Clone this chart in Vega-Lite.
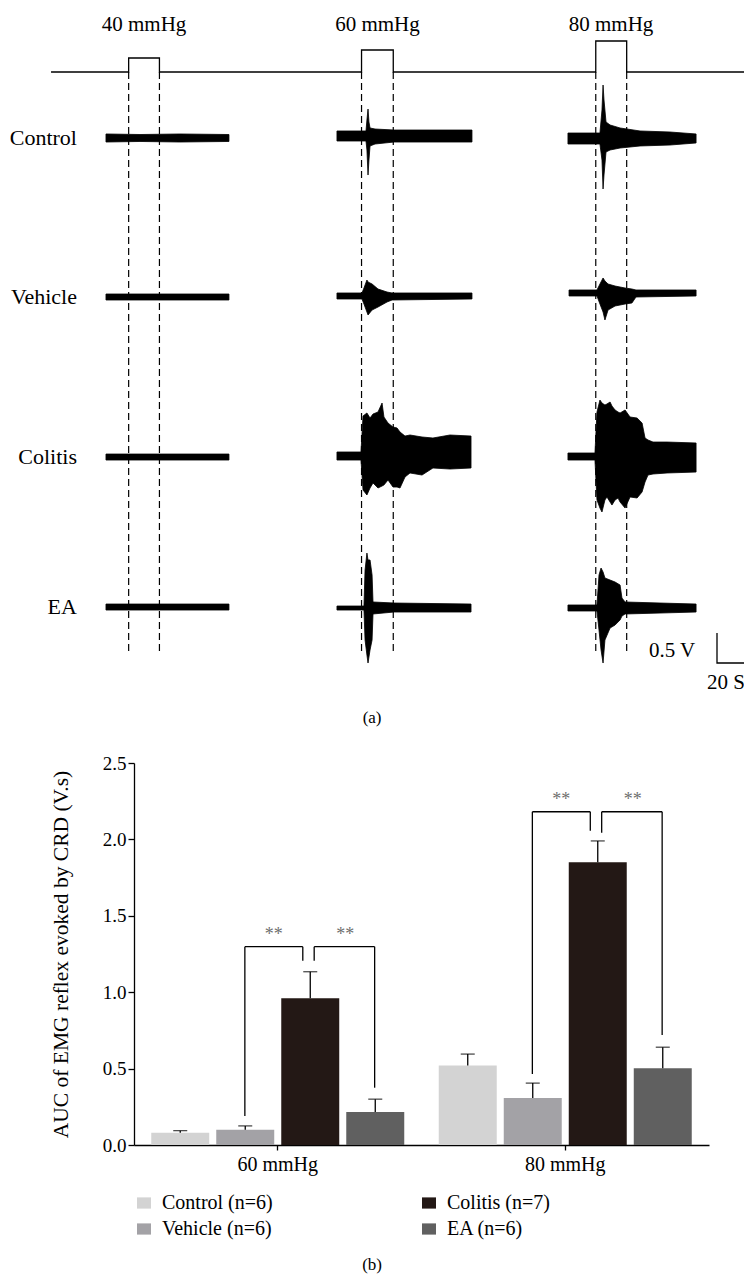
{
  "$schema": "https://vega.github.io/schema/vega-lite/v6.json",
  "padding": 0,
  "autosize": {"type": "pad"},
  "background": "white",
  "bounds": "flush",
  "spacing": 23,
  "config": {
    "view": {"stroke": null},
    "font": "Liberation Serif",
    "axis": {"labelFont": "Liberation Serif", "titleFont": "Liberation Serif", "labelColor": "black", "titleColor": "black", "grid": false},
    "legend": {"labelFont": "Liberation Serif"}
  },
  "datasets": {
    "lines": [
      {"id": "pressure", "i": 0, "t": 37.8, "v": 1.2},
      {"id": "pressure", "i": 1, "t": 95.3, "v": 1.2},
      {"id": "pressure", "i": 2, "t": 95.3, "v": 0.967},
      {"id": "pressure", "i": 3, "t": 118.1, "v": 0.967},
      {"id": "pressure", "i": 4, "t": 118.1, "v": 1.2},
      {"id": "pressure", "i": 5, "t": 267.8, "v": 1.2},
      {"id": "pressure", "i": 6, "t": 267.8, "v": 0.833},
      {"id": "pressure", "i": 7, "t": 291.3, "v": 0.833},
      {"id": "pressure", "i": 8, "t": 291.3, "v": 1.2},
      {"id": "pressure", "i": 9, "t": 441.3, "v": 1.2},
      {"id": "pressure", "i": 10, "t": 441.3, "v": 0.683},
      {"id": "pressure", "i": 11, "t": 464.2, "v": 0.683},
      {"id": "pressure", "i": 12, "t": 464.2, "v": 1.2},
      {"id": "pressure", "i": 13, "t": 551.1, "v": 1.2},
      {"id": "scalebar", "i": 0, "t": 531.1, "v": 10.55},
      {"id": "scalebar", "i": 1, "t": 531.1, "v": 11.05},
      {"id": "scalebar", "i": 2, "t": 551.1, "v": 11.05}
    ],
    "dashes": [
      {"t": 95.3, "v": 1.2, "v2": 10.917},
      {"t": 118.1, "v": 1.2, "v2": 10.917},
      {"t": 267.8, "v": 1.2, "v2": 10.917},
      {"t": 291.3, "v": 1.2, "v2": 10.917},
      {"t": 441.3, "v": 1.2, "v2": 10.917},
      {"t": 464.2, "v": 1.2, "v2": 10.917}
    ],
    "traces": [
      {"seg": "C40", "t": 78.5, "v": 2.233, "v2": 2.367},
      {"seg": "C40", "t": 103.7, "v": 2.242, "v2": 2.358},
      {"seg": "C40", "t": 133.3, "v": 2.233, "v2": 2.367},
      {"seg": "C40", "t": 169.6, "v": 2.242, "v2": 2.358},
      {"seg": "C60", "t": 249.6, "v": 2.183, "v2": 2.35},
      {"seg": "C60", "t": 271.1, "v": 2.183, "v2": 2.35},
      {"seg": "C60", "t": 271.8, "v": 2.0, "v2": 2.5},
      {"seg": "C60", "t": 272.6, "v": 1.817, "v2": 2.917},
      {"seg": "C60", "t": 273.3, "v": 2.033, "v2": 2.667},
      {"seg": "C60", "t": 274.1, "v": 2.133, "v2": 2.433},
      {"seg": "C60", "t": 277.8, "v": 2.15, "v2": 2.4},
      {"seg": "C60", "t": 291.9, "v": 2.167, "v2": 2.367},
      {"seg": "C60", "t": 318.5, "v": 2.167, "v2": 2.367},
      {"seg": "C60", "t": 349.6, "v": 2.167, "v2": 2.367},
      {"seg": "C80", "t": 420.7, "v": 2.217, "v2": 2.4},
      {"seg": "C80", "t": 444.4, "v": 2.217, "v2": 2.4},
      {"seg": "C80", "t": 445.9, "v": 1.833, "v2": 2.667},
      {"seg": "C80", "t": 446.7, "v": 1.417, "v2": 3.15},
      {"seg": "C80", "t": 447.4, "v": 1.667, "v2": 2.917},
      {"seg": "C80", "t": 448.9, "v": 2.033, "v2": 2.533},
      {"seg": "C80", "t": 451.9, "v": 2.083, "v2": 2.5},
      {"seg": "C80", "t": 459.3, "v": 2.133, "v2": 2.467},
      {"seg": "C80", "t": 474.1, "v": 2.183, "v2": 2.433},
      {"seg": "C80", "t": 496.3, "v": 2.2, "v2": 2.417},
      {"seg": "C80", "t": 515.6, "v": 2.233, "v2": 2.383},
      {"seg": "V40", "t": 78.5, "v": 4.9, "v2": 5.0},
      {"seg": "V40", "t": 169.6, "v": 4.9, "v2": 5.0},
      {"seg": "V60", "t": 249.6, "v": 4.883, "v2": 4.983},
      {"seg": "V60", "t": 268.1, "v": 4.883, "v2": 4.983},
      {"seg": "V60", "t": 269.6, "v": 4.8, "v2": 5.067},
      {"seg": "V60", "t": 271.8, "v": 4.667, "v2": 5.2},
      {"seg": "V60", "t": 272.6, "v": 4.7, "v2": 5.25},
      {"seg": "V60", "t": 275.6, "v": 4.733, "v2": 5.167},
      {"seg": "V60", "t": 280.0, "v": 4.817, "v2": 5.117},
      {"seg": "V60", "t": 286.7, "v": 4.867, "v2": 5.033},
      {"seg": "V60", "t": 290.4, "v": 4.883, "v2": 5.0},
      {"seg": "V60", "t": 349.6, "v": 4.883, "v2": 4.983},
      {"seg": "V80", "t": 421.5, "v": 4.833, "v2": 4.933},
      {"seg": "V80", "t": 442.2, "v": 4.833, "v2": 4.933},
      {"seg": "V80", "t": 444.4, "v": 4.733, "v2": 5.067},
      {"seg": "V80", "t": 446.7, "v": 4.633, "v2": 5.2},
      {"seg": "V80", "t": 448.1, "v": 4.683, "v2": 5.333},
      {"seg": "V80", "t": 450.4, "v": 4.733, "v2": 5.167},
      {"seg": "V80", "t": 455.6, "v": 4.767, "v2": 5.1},
      {"seg": "V80", "t": 463.0, "v": 4.8, "v2": 5.067},
      {"seg": "V80", "t": 468.1, "v": 4.817, "v2": 5.05},
      {"seg": "V80", "t": 471.1, "v": 4.833, "v2": 4.95},
      {"seg": "V80", "t": 515.6, "v": 4.833, "v2": 4.933},
      {"seg": "Co40", "t": 78.5, "v": 7.567, "v2": 7.667},
      {"seg": "Co40", "t": 169.6, "v": 7.567, "v2": 7.667},
      {"seg": "Co60", "t": 249.6, "v": 7.533, "v2": 7.667},
      {"seg": "Co60", "t": 267.4, "v": 7.533, "v2": 7.667},
      {"seg": "Co60", "t": 268.9, "v": 6.933, "v2": 8.167},
      {"seg": "Co60", "t": 271.8, "v": 6.883, "v2": 8.25},
      {"seg": "Co60", "t": 274.1, "v": 6.967, "v2": 8.133},
      {"seg": "Co60", "t": 276.3, "v": 6.9, "v2": 8.05},
      {"seg": "Co60", "t": 280.0, "v": 6.867, "v2": 8.133},
      {"seg": "Co60", "t": 283.0, "v": 6.717, "v2": 8.1},
      {"seg": "Co60", "t": 284.4, "v": 6.95, "v2": 8.083},
      {"seg": "Co60", "t": 287.4, "v": 7.05, "v2": 8.0},
      {"seg": "Co60", "t": 291.1, "v": 7.117, "v2": 8.117},
      {"seg": "Co60", "t": 294.1, "v": 7.133, "v2": 8.117},
      {"seg": "Co60", "t": 296.3, "v": 7.2, "v2": 8.133},
      {"seg": "Co60", "t": 300.0, "v": 7.267, "v2": 7.95},
      {"seg": "Co60", "t": 303.7, "v": 7.25, "v2": 7.883},
      {"seg": "Co60", "t": 312.6, "v": 7.283, "v2": 7.917},
      {"seg": "Co60", "t": 320.7, "v": 7.3, "v2": 7.8},
      {"seg": "Co60", "t": 333.3, "v": 7.25, "v2": 7.817},
      {"seg": "Co60", "t": 348.9, "v": 7.267, "v2": 7.8},
      {"seg": "Co80", "t": 420.7, "v": 7.55, "v2": 7.667},
      {"seg": "Co80", "t": 440.7, "v": 7.55, "v2": 7.667},
      {"seg": "Co80", "t": 442.2, "v": 6.867, "v2": 8.333},
      {"seg": "Co80", "t": 444.4, "v": 6.667, "v2": 8.467},
      {"seg": "Co80", "t": 445.9, "v": 6.717, "v2": 8.533},
      {"seg": "Co80", "t": 448.1, "v": 6.75, "v2": 8.333},
      {"seg": "Co80", "t": 449.6, "v": 6.733, "v2": 8.283},
      {"seg": "Co80", "t": 451.9, "v": 6.7, "v2": 8.367},
      {"seg": "Co80", "t": 453.3, "v": 6.767, "v2": 8.417},
      {"seg": "Co80", "t": 455.6, "v": 6.833, "v2": 8.333},
      {"seg": "Co80", "t": 457.8, "v": 6.867, "v2": 8.3},
      {"seg": "Co80", "t": 459.3, "v": 6.883, "v2": 8.367},
      {"seg": "Co80", "t": 463.0, "v": 6.833, "v2": 8.467},
      {"seg": "Co80", "t": 466.7, "v": 6.95, "v2": 8.283},
      {"seg": "Co80", "t": 471.9, "v": 6.967, "v2": 8.3},
      {"seg": "Co80", "t": 475.6, "v": 7.05, "v2": 8.2},
      {"seg": "Co80", "t": 477.8, "v": 7.3, "v2": 8.033},
      {"seg": "Co80", "t": 480.0, "v": 7.333, "v2": 7.917},
      {"seg": "Co80", "t": 483.7, "v": 7.367, "v2": 7.9},
      {"seg": "Co80", "t": 494.1, "v": 7.367, "v2": 7.883},
      {"seg": "Co80", "t": 515.6, "v": 7.383, "v2": 7.867},
      {"seg": "EA40", "t": 78.5, "v": 10.067, "v2": 10.167},
      {"seg": "EA40", "t": 169.6, "v": 10.067, "v2": 10.167},
      {"seg": "EA60", "t": 249.6, "v": 10.1, "v2": 10.167},
      {"seg": "EA60", "t": 269.6, "v": 10.1, "v2": 10.167},
      {"seg": "EA60", "t": 270.4, "v": 9.5, "v2": 10.667},
      {"seg": "EA60", "t": 271.8, "v": 9.217, "v2": 10.917},
      {"seg": "EA60", "t": 272.6, "v": 9.333, "v2": 11.05},
      {"seg": "EA60", "t": 274.1, "v": 9.333, "v2": 10.833},
      {"seg": "EA60", "t": 275.6, "v": 9.583, "v2": 10.667},
      {"seg": "EA60", "t": 276.3, "v": 10.033, "v2": 10.233},
      {"seg": "EA60", "t": 291.9, "v": 10.05, "v2": 10.2},
      {"seg": "EA60", "t": 348.9, "v": 10.067, "v2": 10.2},
      {"seg": "EA80", "t": 420.7, "v": 10.083, "v2": 10.183},
      {"seg": "EA80", "t": 442.2, "v": 10.083, "v2": 10.183},
      {"seg": "EA80", "t": 443.7, "v": 9.583, "v2": 10.5},
      {"seg": "EA80", "t": 445.2, "v": 9.467, "v2": 10.833},
      {"seg": "EA80", "t": 446.7, "v": 9.533, "v2": 11.05},
      {"seg": "EA80", "t": 448.1, "v": 9.633, "v2": 10.667},
      {"seg": "EA80", "t": 451.9, "v": 9.667, "v2": 10.467},
      {"seg": "EA80", "t": 455.6, "v": 9.7, "v2": 10.417},
      {"seg": "EA80", "t": 459.3, "v": 9.75, "v2": 10.333},
      {"seg": "EA80", "t": 460.7, "v": 9.967, "v2": 10.267},
      {"seg": "EA80", "t": 463.0, "v": 10.033, "v2": 10.233},
      {"seg": "EA80", "t": 488.9, "v": 10.05, "v2": 10.217},
      {"seg": "EA80", "t": 515.6, "v": 10.067, "v2": 10.2}
    ],
    "rowLabels": [
      {"label": "Control", "t": 57.0, "v": 2.3},
      {"label": "Vehicle", "t": 57.0, "v": 4.95},
      {"label": "Colitis", "t": 57.0, "v": 7.617},
      {"label": "EA", "t": 57.0, "v": 10.117}
    ],
    "centerLabels": [
      {"label": "40 mmHg", "t": 106.7, "v": 0.417},
      {"label": "60 mmHg", "t": 279.6, "v": 0.417},
      {"label": "80 mmHg", "t": 452.6, "v": 0.417},
      {"label": "0.5 V", "t": 497.8, "v": 10.85},
      {"label": "20 S", "t": 537.8, "v": 11.383}
    ],
    "panelLabels": [
      {"label": "(a)", "t": 275.6, "v": 11.967},
      {"label": "(b)", "t": 275.6, "v": 21.083}
    ],
    "bars": [
      {"pressure": "60 mmHg", "group": "Control", "mean": 0.08, "upper": 0.094},
      {"pressure": "60 mmHg", "group": "Vehicle", "mean": 0.1, "upper": 0.125},
      {"pressure": "60 mmHg", "group": "Colitis", "mean": 0.96, "upper": 1.134},
      {"pressure": "60 mmHg", "group": "EA", "mean": 0.216, "upper": 0.3},
      {"pressure": "80 mmHg", "group": "Control", "mean": 0.52, "upper": 0.595},
      {"pressure": "80 mmHg", "group": "Vehicle", "mean": 0.307, "upper": 0.405},
      {"pressure": "80 mmHg", "group": "Colitis", "mean": 1.85, "upper": 1.99},
      {"pressure": "80 mmHg", "group": "EA", "mean": 0.503, "upper": 0.64}
    ],
    "bracketArms": [
      {"pressure": "60 mmHg", "arm": "outerL", "low": 0.19, "high": 1.298},
      {"pressure": "60 mmHg", "arm": "innerL", "low": 1.206, "high": 1.298},
      {"pressure": "60 mmHg", "arm": "innerR", "low": 1.206, "high": 1.298},
      {"pressure": "60 mmHg", "arm": "outerR", "low": 0.375, "high": 1.298},
      {"pressure": "80 mmHg", "arm": "outerL", "low": 0.465, "high": 2.181},
      {"pressure": "80 mmHg", "arm": "innerL", "low": 2.057, "high": 2.181},
      {"pressure": "80 mmHg", "arm": "innerR", "low": 2.044, "high": 2.181},
      {"pressure": "80 mmHg", "arm": "outerR", "low": 0.72, "high": 2.181}
    ],
    "bracketTops": [
      {"pressure": "60 mmHg", "side": "left", "top": 1.298},
      {"pressure": "60 mmHg", "side": "right", "top": 1.298},
      {"pressure": "80 mmHg", "side": "left", "top": 2.181},
      {"pressure": "80 mmHg", "side": "right", "top": 2.181}
    ],
    "stars": [
      {"pressure": "60 mmHg", "side": "left", "val": 1.374, "label": "**"},
      {"pressure": "60 mmHg", "side": "right", "val": 1.374, "label": "**"},
      {"pressure": "80 mmHg", "side": "left", "val": 2.258, "label": "**"},
      {"pressure": "80 mmHg", "side": "right", "val": 2.258, "label": "**"}
    ]
  },
  "vconcat": [
    {
      "width": 744,
      "height": 740,
      "encoding": {
        "x": {"field": "t", "type": "quantitative", "scale": {"domain": [0, 551.1], "nice": false, "zero": false}, "axis": null},
        "y": {"field": "v", "type": "quantitative", "scale": {"domain": [0, 12.333], "nice": false, "zero": false, "reverse": true}, "axis": null}
      },
      "layer": [
        {"data": {"name": "lines"}, "mark": {"type": "line", "color": "black", "strokeWidth": 1.3}, "encoding": {"detail": {"field": "id"}, "order": {"field": "i", "type": "quantitative"}}},
        {"data": {"name": "dashes"}, "mark": {"type": "rule", "color": "black", "strokeWidth": 1.2, "strokeDash": [7, 4]}, "encoding": {"y2": {"field": "v2"}}},
        {"data": {"name": "traces"}, "mark": {"type": "area", "color": "black", "stroke": "black", "strokeWidth": 0.8, "interpolate": "linear"}, "encoding": {"y2": {"field": "v2"}, "detail": {"field": "seg"}}},
        {"data": {"name": "rowLabels"}, "mark": {"type": "text", "align": "right", "baseline": "middle", "fontSize": 22, "color": "black", "font": "Liberation Serif"}, "encoding": {"text": {"field": "label"}}},
        {"data": {"name": "centerLabels"}, "mark": {"type": "text", "align": "center", "baseline": "middle", "fontSize": 21, "color": "black", "font": "Liberation Serif"}, "encoding": {"text": {"field": "label"}}},
        {"data": {"name": "panelLabels"}, "mark": {"type": "text", "align": "center", "baseline": "middle", "fontSize": 17, "color": "black", "font": "Liberation Serif"}, "encoding": {"text": {"field": "label"}}}
      ]
    },
    {
      "bounds": "flush",
      "spacing": 10,
      "hconcat": [
        {"width": 124, "height": 382, "data": {"values": []}, "mark": {"type": "point", "opacity": 0}},
        {
          "width": 575,
          "height": 382,
          "encoding": {
            "x": {
              "field": "pressure", "type": "nominal",
              "scale": {"domain": ["60 mmHg", "80 mmHg"], "paddingInner": 0.12, "paddingOuter": 0.06},
              "axis": {"title": null, "labelAngle": 0, "domainColor": "black", "domainWidth": 1.3, "tickColor": "black", "tickWidth": 1.3, "tickSize": 5, "labelFontSize": 20, "labelPadding": 4, "labelColor": "black"}
            }
          },
          "layer": [
            {
              "data": {"name": "bars"},
              "mark": {"type": "bar"},
              "encoding": {
                "xOffset": {"field": "group", "type": "nominal", "scale": {"domain": ["Control", "Vehicle", "Colitis", "EA"], "paddingInner": 0.108, "paddingOuter": 0}},
                "y": {
                  "field": "mean", "type": "quantitative",
                  "scale": {"domain": [0, 2.5], "nice": false},
                  "axis": {"values": [0, 0.5, 1, 1.5, 2, 2.5], "format": ".1f", "title": "AUC of EMG reflex evoked by CRD (V.s)", "domainColor": "black", "domainWidth": 1.3, "tickColor": "black", "tickWidth": 1.3, "tickSize": 6, "labelFontSize": 19, "labelPadding": 2, "titleFontSize": 21.5, "titleFontWeight": "normal", "titlePadding": 30}
                },
                "color": {
                  "field": "group", "type": "nominal",
                  "scale": {"domain": ["Control", "Vehicle", "Colitis", "EA"], "range": ["#d3d3d3", "#a3a2a6", "#231815", "#606060"]},
                  "legend": {"orient": "none", "legendX": 134, "legendY": 1193, "columns": 2, "title": null, "symbolType": "M-1,-0.8H1V0.8H-1Z", "symbolSize": 196, "symbolStrokeWidth": 0, "symbolOpacity": 1, "labelFontSize": 20, "labelColor": "black", "labelOffset": 8, "columnPadding": 146, "rowPadding": 6, "padding": 0, "labelExpr": "datum.label == 'Colitis' ? 'Colitis (n=7)' : datum.label + ' (n=6)'"}
                }
              }
            },
            {
              "data": {"name": "bars"},
              "mark": {"type": "rule", "color": "black", "strokeWidth": 1.3},
              "encoding": {
                "xOffset": {"field": "group", "type": "nominal", "scale": {"domain": ["Control", "Vehicle", "Colitis", "EA"], "paddingInner": 0.108, "paddingOuter": 0}},
                "y": {"field": "mean", "type": "quantitative", "scale": {"domain": [0, 2.5], "nice": false}},
                "y2": {"field": "upper"}
              }
            },
            {
              "data": {"name": "bars"},
              "mark": {"type": "tick", "orient": "horizontal", "size": 14, "thickness": 1.3, "color": "black"},
              "encoding": {
                "xOffset": {"field": "group", "type": "nominal", "scale": {"domain": ["Control", "Vehicle", "Colitis", "EA"], "paddingInner": 0.108, "paddingOuter": 0}},
                "y": {"field": "upper", "type": "quantitative", "scale": {"domain": [0, 2.5], "nice": false}}
              }
            },
            {
              "data": {"name": "bracketArms"},
              "transform": [{"filter": "datum.arm == 'outerL'"}],
              "mark": {"type": "rule", "color": "black", "strokeWidth": 1.3},
              "encoding": {
                "x": {"field": "pressure", "type": "nominal", "bandPosition": 0.37},
                "y": {"field": "low", "type": "quantitative", "scale": {"domain": [0, 2.5], "nice": false}},
                "y2": {"field": "high"}
              }
            },
            {
              "data": {"name": "bracketArms"},
              "transform": [{"filter": "datum.arm == 'innerL'"}],
              "mark": {"type": "rule", "color": "black", "strokeWidth": 1.3},
              "encoding": {
                "x": {"field": "pressure", "type": "nominal", "bandPosition": 0.599},
                "y": {"field": "low", "type": "quantitative", "scale": {"domain": [0, 2.5], "nice": false}},
                "y2": {"field": "high"}
              }
            },
            {
              "data": {"name": "bracketArms"},
              "transform": [{"filter": "datum.arm == 'innerR'"}],
              "mark": {"type": "rule", "color": "black", "strokeWidth": 1.3},
              "encoding": {
                "x": {"field": "pressure", "type": "nominal", "bandPosition": 0.644},
                "y": {"field": "low", "type": "quantitative", "scale": {"domain": [0, 2.5], "nice": false}},
                "y2": {"field": "high"}
              }
            },
            {
              "data": {"name": "bracketArms"},
              "transform": [{"filter": "datum.arm == 'outerR'"}],
              "mark": {"type": "rule", "color": "black", "strokeWidth": 1.3},
              "encoding": {
                "x": {"field": "pressure", "type": "nominal", "bandPosition": 0.883},
                "y": {"field": "low", "type": "quantitative", "scale": {"domain": [0, 2.5], "nice": false}},
                "y2": {"field": "high"}
              }
            },
            {
              "data": {"name": "bracketTops"},
              "transform": [{"filter": "datum.side == 'left'"}],
              "mark": {"type": "rule", "color": "black", "strokeWidth": 1.3},
              "encoding": {
                "x": {"field": "pressure", "type": "nominal", "bandPosition": 0.37},
                "x2": {"field": "pressure", "bandPosition": 0.599},
                "y": {"field": "top", "type": "quantitative", "scale": {"domain": [0, 2.5], "nice": false}}
              }
            },
            {
              "data": {"name": "bracketTops"},
              "transform": [{"filter": "datum.side == 'right'"}],
              "mark": {"type": "rule", "color": "black", "strokeWidth": 1.3},
              "encoding": {
                "x": {"field": "pressure", "type": "nominal", "bandPosition": 0.644},
                "x2": {"field": "pressure", "bandPosition": 0.883},
                "y": {"field": "top", "type": "quantitative", "scale": {"domain": [0, 2.5], "nice": false}}
              }
            },
            {
              "data": {"name": "stars"},
              "transform": [{"filter": "datum.side == 'left'"}],
              "mark": {"type": "text", "fontSize": 18, "color": "#6e6e6e", "baseline": "middle", "align": "center", "font": "Liberation Serif"},
              "encoding": {
                "x": {"field": "pressure", "type": "nominal", "bandPosition": 0.484},
                "y": {"field": "val", "type": "quantitative", "scale": {"domain": [0, 2.5], "nice": false}},
                "text": {"field": "label"}
              }
            },
            {
              "data": {"name": "stars"},
              "transform": [{"filter": "datum.side == 'right'"}],
              "mark": {"type": "text", "fontSize": 18, "color": "#6e6e6e", "baseline": "middle", "align": "center", "font": "Liberation Serif"},
              "encoding": {
                "x": {"field": "pressure", "type": "nominal", "bandPosition": 0.767},
                "y": {"field": "val", "type": "quantitative", "scale": {"domain": [0, 2.5], "nice": false}},
                "text": {"field": "label"}
              }
            }
          ]
        }
      ]
    }
  ]
}
